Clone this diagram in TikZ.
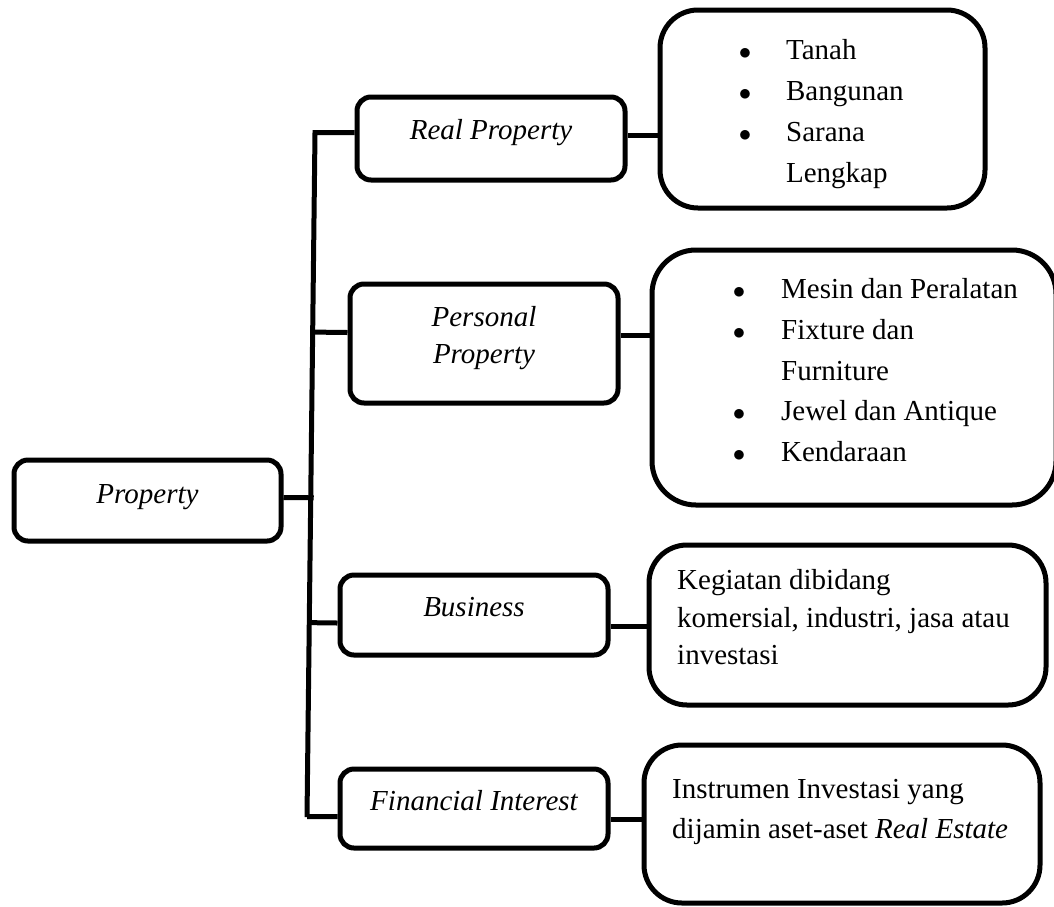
\documentclass[tikz,border=0pt]{standalone}
\usepackage{fontspec}
\setmainfont{Liberation Serif}
\usetikzlibrary{calc}
\newcommand{\bul}{$\bullet$}
\begin{document}
\begin{tikzpicture}[x=1pt,y=-1pt,
 lbox/.style={draw=black, line width=5pt, rounded corners=14pt, inner sep=0pt},
 rbox/.style={draw=black, line width=5pt, rounded corners=38pt, inner sep=0pt},
 ltxt/.style={font=\fontsize{29}{37}\selectfont\itshape, align=center, inner sep=0pt},
 rtxt/.style={inner sep=0pt, anchor=base west},
 conn/.style={draw=black, line width=5pt}]
\useasboundingbox (0,0) rectangle (1054,906);
\clip (0,0) rectangle (1054,906);
% left boxes
\node[lbox, minimum width=267pt, minimum height=81pt] (prop) at (147.5,500.5) {};
\node[lbox, minimum width=268pt, minimum height=83pt] (rp) at (491,138.5) {};
\node[lbox, minimum width=268pt, minimum height=119pt] (pp) at (484,343.5) {};
\node[lbox, minimum width=268pt, minimum height=80pt] (bus) at (474,615) {};
\node[lbox, minimum width=268pt, minimum height=79pt] (fin) at (474,808.5) {};
% right boxes
\node[rbox, minimum width=325pt, minimum height=198pt] (rb1) at (822.5,109) {};
\node[rbox, minimum width=404pt, minimum height=255pt, rounded corners=44pt] (rb2) at (854,377.5) {};
\node[rbox, minimum width=397pt, minimum height=160pt] (rb3) at (847.5,625) {};
\node[rbox, minimum width=396pt, minimum height=158pt] (rb4) at (842,824) {};
% left texts
\node[ltxt] (propt) at ([yshift=3pt]prop.center) {Property};
\node[ltxt] (rpt) at ([yshift=6pt]rp.center) {Real Property};
\node[ltxt] (ppt) at ([yshift=5pt]pp.center) {Personal\\Property};
\node[ltxt] (bust) at ([yshift=8pt]bus.center) {Business};
\node[ltxt] (fint) at ([yshift=8pt]fin.center) {Financial Interest};
% right texts
\node[rtxt] (l1) at (738.75,59) {\fontsize{29}{41}\selectfont
 \begin{tabular}[t]{@{}l@{\hspace{34.75pt}}l@{}}\bul & Tanah\\ \bul & Bangunan\\ \bul & Sarana\\ & Lengkap\end{tabular}};
\node[rtxt] (l2) at (732.75,298.5) {\fontsize{29}{40.75}\selectfont
 \begin{tabular}[t]{@{}l@{\hspace{35.75pt}}l@{}}\bul & Mesin dan Peralatan\\ \bul & Fixture dan\\ & Furniture\\ \bul & Jewel dan Antique\\ \bul & Kendaraan\end{tabular}};
\node[rtxt] (l3) at (677,589.5) {\fontsize{29}{37.5}\selectfont
 \begin{tabular}[t]{@{}l@{}}Kegiatan dibidang\\ komersial, industri, jasa atau\\ investasi\end{tabular}};
\node[rtxt] (l4) at (672,798.5) {\fontsize{29}{40}\selectfont
 \begin{tabular}[t]{@{}l@{}}Instrumen Investasi yang\\ dijamin aset-aset \textit{Real Estate}\end{tabular}};
% trunk
\coordinate (ttop) at (315,132);
\coordinate (tbot) at (307,817);
\coordinate (rpl) at ([yshift=6pt]rp.west);
\coordinate (ppl) at ([yshift=11pt]pp.west);
\coordinate (busl) at ([yshift=-8pt]bus.west);
\coordinate (finl) at ([yshift=-8pt]fin.west);
\coordinate (propr) at ([yshift=3pt]prop.east);
\draw[conn] (rpl) -- (rpl -| ttop) -- (tbot) -- (tbot |- finl) -- (finl);
\draw[conn] (ppl) -- ($(ttop)!(ppl)!(tbot)$);
\draw[conn] (busl) -- ($(ttop)!(busl)!(tbot)$);
\draw[conn] (propr) -- ([xshift=3pt]$(ttop)!(propr)!(tbot)$);
% right connectors
\coordinate (rpr) at ([yshift=3pt]rp.east);
\coordinate (ppr) at ([yshift=8pt]pp.east);
\coordinate (busr) at ([yshift=-11pt]bus.east);
\coordinate (finr) at ([yshift=-11pt]fin.east);
\draw[conn] (rpr) -- (rpr -| rb1.west);
\draw[conn] (ppr) -- (ppr -| rb2.west);
\draw[conn] (busr) -- (busr -| rb3.west);
\draw[conn] (finr) -- (finr -| rb4.west);
\end{tikzpicture}
\end{document}
